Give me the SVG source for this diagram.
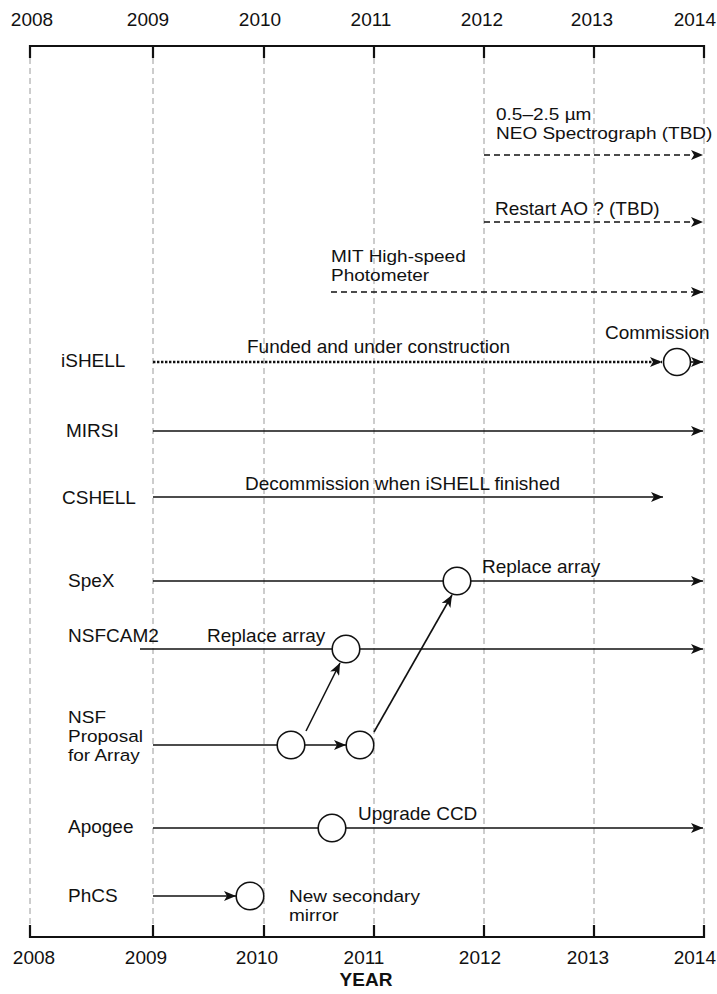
<svg xmlns="http://www.w3.org/2000/svg" width="717" height="994" viewBox="0 0 717 994">
<defs>
<style>
text{font-family:"Liberation Sans",Arial,sans-serif;font-size:19px;fill:#111}
text.ml{font-size:17px}
.yr{text-anchor:middle}
.grid{stroke:#9a9a9a;stroke-width:1;stroke-dasharray:6 4;fill:none}
.axis{stroke:#111;stroke-width:2.2;fill:none}
.ln{stroke:#111;stroke-width:1.6;fill:none}
.dash{stroke:#111;stroke-width:1.6;stroke-dasharray:6 4;fill:none}
.dot{stroke:#111;stroke-width:2.6;stroke-dasharray:2.4 1.6;fill:none}
.ev{fill:#fff;stroke:#111;stroke-width:1.6}
</style>
<marker id="ah" viewBox="0 0 12 10" refX="12" refY="5" markerWidth="12" markerHeight="10" markerUnits="userSpaceOnUse" orient="auto">
<path d="M0,0 L12,5 L0,10 L3,5 z" fill="#111" stroke="none"/>
</marker>
</defs>
<rect width="717" height="994" fill="#fff"/>

<g id="grid">
<path class="grid" d="M30,58V925M153,58V925M264,58V925M374,58V925M484,58V925M594,58V925M704,58V925"/>
</g>

<g id="axis-top">
<path class="axis" d="M30,46H704M30,45V58M153,46V58M264,46V58M374,46V58M484,46V58M594,46V58M704,45V58"/>
<text class="yr" x="32" y="26">2008</text>
<text class="yr" x="148" y="26">2009</text>
<text class="yr" x="260" y="26">2010</text>
<text class="yr" x="371" y="26">2011</text>
<text class="yr" x="482" y="26">2012</text>
<text class="yr" x="592" y="26">2013</text>
<text x="716" y="26" style="text-anchor:end">2014</text>
</g>

<g id="axis-bottom">
<path class="axis" d="M30,937H704M30,925V938M153,925V937M264,925V937M374,925V937M484,925V937M594,925V937M704,925V938"/>
<text class="yr" x="34" y="964">2008</text>
<text class="yr" x="146" y="964">2009</text>
<text class="yr" x="257" y="964">2010</text>
<text class="yr" x="364" y="964">2011</text>
<text class="yr" x="480" y="964">2012</text>
<text class="yr" x="588" y="964">2013</text>
<text x="716" y="964" style="text-anchor:end">2014</text>
<text class="yr" x="366" y="986" style="font-weight:bold">YEAR</text>
</g>

<g id="neo">
<text class="ml" transform="translate(496,120) scale(1.118,1)"><tspan x="0" y="0">0.5–2.5 µm</tspan><tspan x="0" y="19">NEO Spectrograph (TBD)</tspan></text>
</g>
<g id="restart-ao">
<text x="495" y="215">Restart AO ? (TBD)</text>
</g>
<g id="mit">
<text class="ml" transform="translate(331,262) scale(1.118,1)"><tspan x="0" y="0">MIT High-speed</tspan><tspan x="0" y="19">Photometer</tspan></text>
</g>

<g id="ishell">
<text x="61" y="367">iSHELL</text>
<text x="247" y="353">Funded and under construction</text>
<text x="605" y="339">Commission</text>
<circle class="ev" cx="677" cy="362" r="13.5"/>
</g>
<g id="mirsi">
<text x="66" y="437">MIRSI</text>
</g>
<g id="cshell">
<text x="62" y="504">CSHELL</text>
<text x="245" y="490">Decommission when iSHELL finished</text>
</g>
<g id="spex">
<text x="68" y="587">SpeX</text>
<text x="482" y="573">Replace array</text>
<circle class="ev" cx="457" cy="581" r="13.8"/>
</g>
<g id="nsfcam2">
<text x="68" y="642">NSFCAM2</text>
<text x="207" y="642">Replace array</text>
<circle class="ev" cx="346" cy="649" r="13.8"/>
</g>
<g id="nsf">
<text class="ml" transform="translate(68,723) scale(1.118,1)"><tspan x="0" y="0">NSF</tspan><tspan x="0" y="19">Proposal</tspan><tspan x="0" y="38">for Array</tspan></text>
<circle class="ev" cx="291" cy="745" r="13.8"/>
<circle class="ev" cx="360" cy="745" r="13.8"/>
</g>
<g id="apogee">
<text x="68" y="833">Apogee</text>
<text x="358" y="820">Upgrade CCD</text>
<circle class="ev" cx="332" cy="828" r="13.8"/>
</g>
<g id="phcs">
<text x="68" y="902">PhCS</text>
<text class="ml" transform="translate(289,902) scale(1.118,1)"><tspan x="0" y="0">New secondary</tspan><tspan x="0" y="19">mirror</tspan></text>
<circle class="ev" cx="250" cy="896" r="13.8"/>
</g>

<g id="connectors">
<path class="dash" d="M484,155H703" marker-end="url(#ah)"/>
<path class="dash" d="M484,222H703" marker-end="url(#ah)"/>
<path class="dash" d="M331,292H703" marker-end="url(#ah)"/>
<path class="dot" d="M153,362H662" marker-end="url(#ah)"/>
<path class="ln" d="M691,362H703" marker-end="url(#ah)"/>
<path class="ln" d="M153,431H703" marker-end="url(#ah)"/>
<path class="ln" d="M153,497H663" marker-end="url(#ah)"/>
<path class="ln" d="M153,581H443"/>
<path class="ln" d="M471,581H703" marker-end="url(#ah)"/>
<path class="ln" d="M140,649H332"/>
<path class="ln" d="M360,649H703" marker-end="url(#ah)"/>
<path class="ln" d="M153,745H277"/>
<path class="ln" d="M305,745H346" marker-end="url(#ah)"/>
<path class="ln" d="M306,731L340,663" marker-end="url(#ah)"/>
<path class="ln" d="M374,732L452,595" marker-end="url(#ah)"/>
<path class="ln" d="M153,828H318"/>
<path class="ln" d="M346,828H703" marker-end="url(#ah)"/>
<path class="ln" d="M153,896H236" marker-end="url(#ah)"/>
</g>
</svg>
